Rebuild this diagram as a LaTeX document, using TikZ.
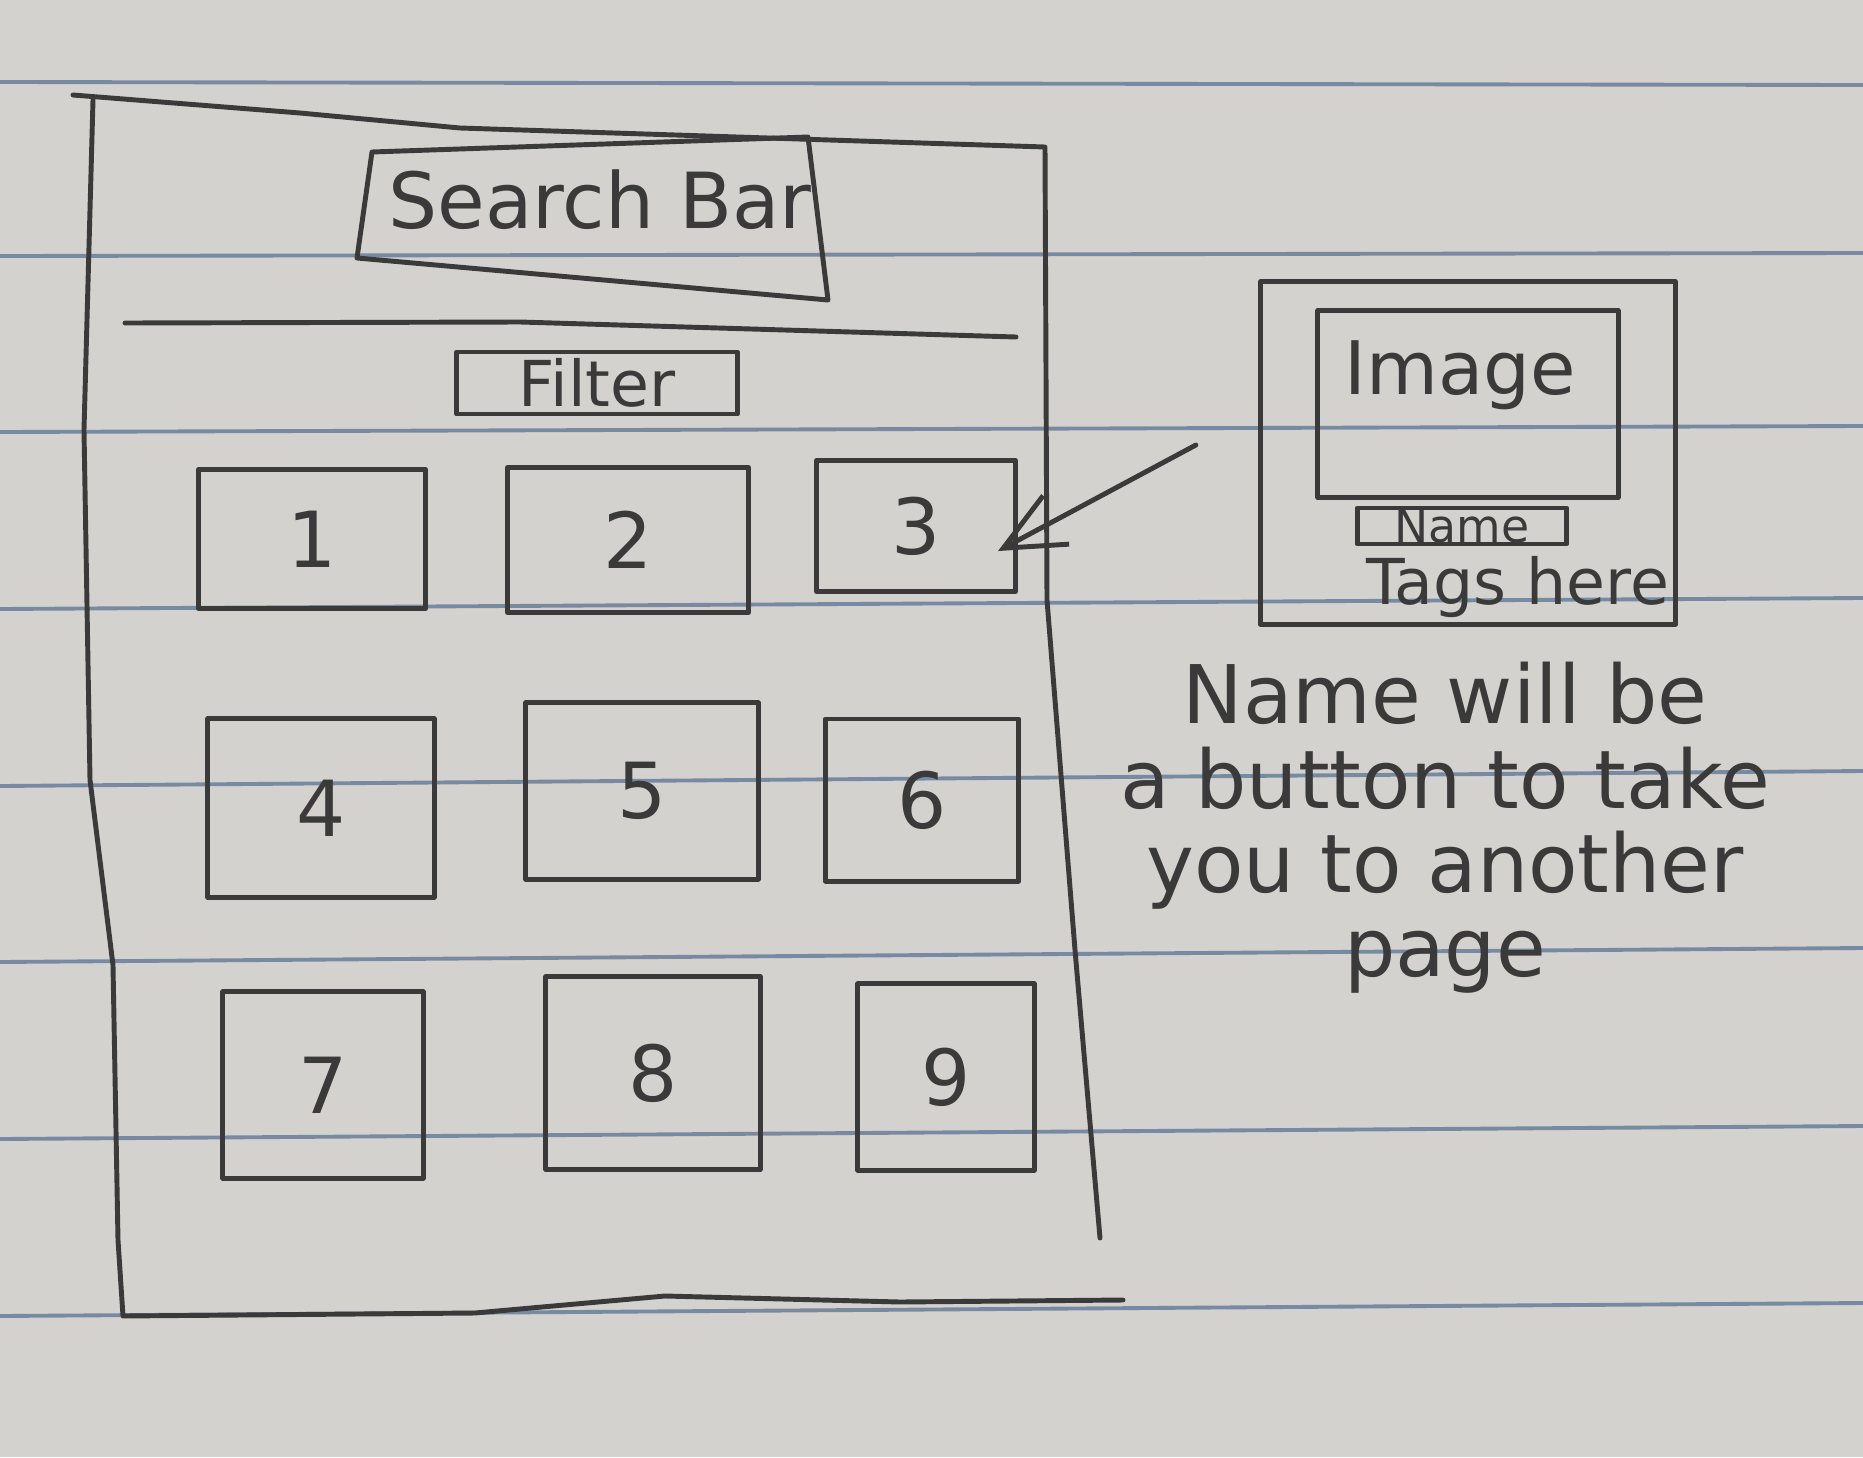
\documentclass[tikz,border=0pt]{standalone}
\usepackage{fontspec}
\setmainfont{DejaVu Sans}
\usepackage{xcolor}
\usepackage{tikz}
\usetikzlibrary{arrows.meta, positioning}

\definecolor{paper}{RGB}{211,210,206}
\definecolor{ruling}{RGB}{120,138,162}
\definecolor{pencil}{RGB}{58,58,58}

\begin{document}
\begin{tikzpicture}[x=0.01cm, y=-0.01cm,
  pen/.style={draw=pencil, line width=1.4pt, line cap=round, line join=round},
  tile/.style={pen, inner sep=0pt, text=pencil, font=\fontsize{22}{22}\selectfont},
  note/.style={text=pencil, inner sep=0pt}]
% paper and its ruled lines
\fill[paper] (0,0) rectangle (1863,1457);
\useasboundingbox (0,0) rectangle (1863,1457);
\draw[ruling, line width=1.1pt] (0,82) -- (1863,85);
\draw[ruling, line width=1.1pt] (0,256) -- (1863,253);
\draw[ruling, line width=1.1pt] (0,432) -- (1863,426);
\draw[ruling, line width=1.1pt] (0,609) -- (1863,598);
\draw[ruling, line width=1.1pt] (0,786) -- (1863,771);
\draw[ruling, line width=1.1pt] (0,962) -- (1863,948);
\draw[ruling, line width=1.1pt] (0,1139) -- (1863,1126);
\draw[ruling, line width=1.1pt] (0,1316) -- (1863,1303);
% phone frame
\draw[pen] (73,95) -- (300,113) -- (460,128) -- (1045,147) -- (1047,600) -- (1075,950) -- (1100,1238);
\draw[pen] (93,100) -- (84,430) -- (90,780) -- (113,965) -- (118,1240) -- (123,1316) -- (475,1313) -- (665,1296) -- (900,1302) -- (1123,1300);
% search bar
\draw[pen] (372,152) -- (808,137) -- (828,300) -- (357,258) -- cycle;
\node[note, font=\fontsize{22}{22}\selectfont] (search) at (600,200) {Search Bar};
\draw[pen] (125,323) -- (520,322) -- (1016,337);
\node[tile, minimum width=2.8cm, minimum height=0.62cm, font=\fontsize{18}{18}\selectfont] (filter) at (597,383) {Filter};
% grid of results
\node[tile, minimum width=2.27cm, minimum height=1.39cm] (t1) at (312,539) {1};
\node[tile, minimum width=2.41cm, minimum height=1.45cm] (t2) at (628,540) {2};
\node[tile, minimum width=1.99cm, minimum height=1.31cm] (t3) at (916,526) {3};
\node[tile, minimum width=2.26cm, minimum height=1.78cm] (t4) at (321,808) {4};
\node[tile, minimum width=2.32cm, minimum height=1.76cm] (t5) at (642,791) {5};
\node[tile, minimum width=1.93cm, minimum height=1.62cm] (t6) at (922,800) {6};
\node[tile, minimum width=2.00cm, minimum height=1.86cm] (t7) at (323,1085) {7};
\node[tile, minimum width=2.14cm, minimum height=1.93cm] (t8) at (653,1073) {8};
\node[tile, minimum width=1.76cm, minimum height=1.86cm] (t9) at (946,1077) {9};
% close-up of one result
\node[pen, minimum width=4.15cm, minimum height=3.42cm] (card) at (1468,453) {};
\node[pen, minimum width=3.0cm, minimum height=1.87cm] (img) at (1468,404) {};
\node[note, font=\fontsize{21}{21}\selectfont] (imgtxt) at (1460,375) {Image};
\node[tile, minimum width=2.09cm, minimum height=0.36cm, font=\fontsize{13}{13}\selectfont] (namebtn) at (1462,526) {Name};
\node[note, font=\fontsize{18}{18}\selectfont] (tags) at (1518,587) {Tags here};
\draw[pen, -{Straight Barb[length=6mm,width=5.5mm]}] ([xshift=-0.62cm,yshift=0.08cm]card.west) -- ([xshift=-0.2cm,yshift=-0.25cm]t3.east);
\node[note, align=center, font=\fontsize{23}{24}\selectfont] (hint) at (1445,828) {Name will be\\a button to take\\you to another\\page};
\end{tikzpicture}
\end{document}
